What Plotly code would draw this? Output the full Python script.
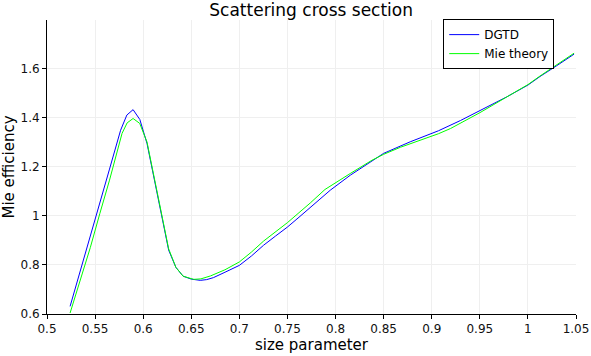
import plotly.graph_objects as go

dgtd_x = [0.524, 0.535, 0.545, 0.555, 0.565, 0.5765, 0.583, 0.5895, 0.5965, 0.604,
          0.611, 0.618, 0.6265, 0.634, 0.6415, 0.65, 0.6594, 0.666, 0.673, 0.685,
          0.70, 0.7125, 0.7252, 0.7375, 0.75, 0.762, 0.7737, 0.7841, 0.7945, 0.8153,
          0.8326, 0.85, 0.8776, 0.907, 0.93, 0.9502, 0.978, 1.0, 1.0126, 1.03, 1.048]
dgtd_y = [0.631, 0.78, 0.915, 1.045, 1.19, 1.348, 1.41, 1.432, 1.392, 1.294,
          1.16, 1.036, 0.86, 0.79, 0.754, 0.742, 0.737, 0.74, 0.748, 0.77,
          0.798, 0.836, 0.88, 0.917, 0.954, 0.994, 1.034, 1.07, 1.104, 1.165,
          1.21, 1.254, 1.301, 1.346, 1.388, 1.427, 1.484, 1.532, 1.567, 1.611, 1.658]

mie_x = [0.524, 0.535, 0.545, 0.555, 0.565, 0.578, 0.5833, 0.5895, 0.5964, 0.604,
         0.611, 0.618, 0.6265, 0.634, 0.6415, 0.6525, 0.66, 0.67, 0.685, 0.70,
         0.7125, 0.7252, 0.7375, 0.75, 0.7737, 0.789, 0.8153, 0.8378, 0.85, 0.8676,
         0.907, 0.9195, 0.9502, 0.978, 1.0, 1.0126, 1.03, 1.048]
mie_y = [0.604, 0.74, 0.87, 1.01, 1.145, 1.335, 1.378, 1.396, 1.376, 1.30,
         1.16, 1.03, 0.865, 0.79, 0.754, 0.741, 0.743, 0.755, 0.78, 0.812,
         0.852, 0.897, 0.935, 0.972, 1.052, 1.107, 1.172, 1.226, 1.25, 1.279,
         1.334, 1.355, 1.42, 1.484, 1.534, 1.569, 1.614, 1.662]

x_ticks = [0.5, 0.55, 0.6, 0.65, 0.7, 0.75, 0.8, 0.85, 0.9, 0.95, 1.0, 1.05]
x_tick_labels = ["0.5", "0.55", "0.6", "0.65", "0.7", "0.75", "0.8", "0.85", "0.9", "0.95", "1", "1.05"]
y_ticks = [0.6, 0.8, 1.0, 1.2, 1.4, 1.6]
y_tick_labels = ["0.6", "0.8", "1", "1.2", "1.4", "1.6"]

fig = go.Figure()
fig.add_trace(go.Scatter(x=dgtd_x, y=dgtd_y, mode="lines", name="DGTD",
                         line=dict(color="rgb(0,0,255)", width=1)))
fig.add_trace(go.Scatter(x=mie_x, y=mie_y, mode="lines", name="Mie theory",
                         line=dict(color="rgb(0,255,0)", width=1)))

font = "DejaVu Sans, sans-serif"
fig.update_layout(
    width=591, height=356,
    margin=dict(l=46.5, r=15, t=20, b=42.3, autoexpand=False),
    paper_bgcolor="white", plot_bgcolor="white",
    font=dict(family=font, color="#111", size=12),
    title=dict(text="Scattering cross section", x=0.5265, xanchor="center",
               y=0.972, yanchor="middle", font=dict(family=font, size=17, color="black")),
    legend=dict(x=0.749, y=1.003, xanchor="left", yanchor="top",
                bordercolor="black", borderwidth=1, bgcolor="white",
                font=dict(family=font, size=12, color="black"),
                tracegroupgap=0, itemwidth=30),
    showlegend=True,
)
fig.update_xaxes(range=[0.5, 1.05], tickvals=x_ticks, ticktext=x_tick_labels,
                 showline=True, linecolor="black", linewidth=1,
                 ticks="outside", ticklen=4, tickcolor="black",
                 showgrid=True, gridcolor="#efefef", gridwidth=1, zeroline=False,
                 automargin=False,
                 title=dict(text="size parameter", font=dict(family=font, size=15, color="black"), standoff=3),
                 tickfont=dict(size=12))
fig.update_yaxes(range=[0.6, 1.797], tickvals=y_ticks, ticktext=y_tick_labels,
                 showline=True, linecolor="black", linewidth=1,
                 ticks="outside", ticklen=4, tickcolor="black",
                 showgrid=True, gridcolor="#efefef", gridwidth=1, zeroline=False,
                 automargin=False,
                 title=dict(text="Mie efficiency", font=dict(family=font, size=15, color="black"), standoff=5),
                 tickfont=dict(size=12))

fig.write_html("out.html", config={"displayModeBar": False},
               post_script="document.body.style.margin='0';")
